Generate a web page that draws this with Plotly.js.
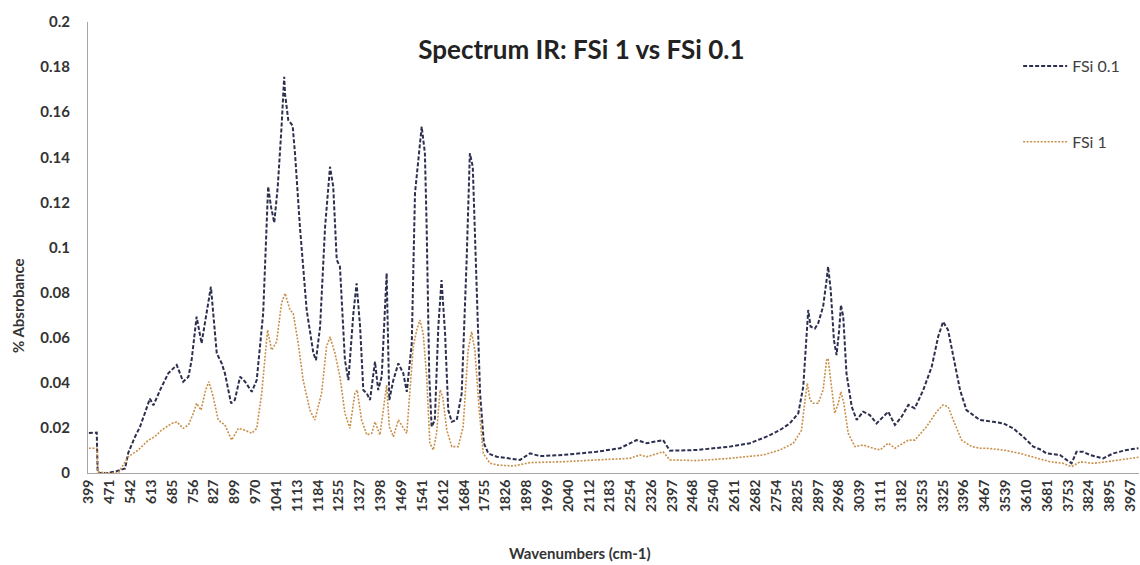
<!DOCTYPE html>
<html>
<head>
<meta charset="utf-8">
<script src="https://cdn.plot.ly/plotly-3.0.1.min.js"></script>
<style>html,body{margin:0;padding:0;background:#fff;}#chart{width:1140px;height:565px;}</style>
</head>
<body>
<div id="chart"></div>
<script>
// Wavenumbers (cm-1) and % absorbance
const wnFSi01 = [399, 426, 429, 432, 464, 488, 523, 534, 557, 574,
  591, 608, 620, 643, 671, 700, 722, 740, 751, 768,
  785, 803, 817, 837, 854, 865, 886, 899, 917, 934,
  957, 974, 996, 1013, 1023, 1034, 1046, 1059, 1068, 1071,
  1082, 1097, 1105, 1122, 1145, 1168, 1177, 1191, 1208, 1225,
  1236, 1248, 1259, 1276, 1288, 1305, 1316, 1328, 1339, 1351,
  1362, 1379, 1390, 1402, 1419, 1428, 1442, 1459, 1476, 1488,
  1505, 1516, 1527, 1539, 1550, 1556, 1565, 1573, 1584, 1596,
  1607, 1619, 1630, 1642, 1659, 1676, 1693, 1704, 1714, 1725,
  1739, 1752, 1767, 1796, 1830, 1876, 1910, 1944, 2024, 2138,
  2218, 2275, 2310, 2344, 2366, 2389, 2481, 2595, 2663, 2720,
  2766, 2800, 2829, 2846, 2857, 2863, 2871, 2886, 2897, 2914,
  2926, 2931, 2940, 2951, 2960, 2969, 2975, 2983, 2994, 3012,
  3029, 3051, 3074, 3097, 3120, 3137, 3160, 3183, 3206, 3228,
  3257, 3286, 3308, 3325, 3342, 3360, 3383, 3405, 3434, 3451,
  3497, 3531, 3565, 3599, 3634, 3662, 3679, 3702, 3725, 3748,
  3765, 3782, 3805, 3828, 3851, 3873, 3908, 3953, 3994];
const absFSi01 = [0.0177, 0.0179, 0.0005, 0.0, 0.0, 0.0006, 0.002, 0.009, 0.016, 0.0205,
  0.0266, 0.033, 0.030, 0.0368, 0.0442, 0.0479, 0.0405, 0.0427, 0.0501, 0.0693,
  0.0575, 0.0723, 0.0826, 0.0531, 0.0486, 0.0442, 0.0309, 0.0324, 0.0427, 0.0405,
  0.036, 0.0412, 0.0708, 0.127, 0.118, 0.111, 0.127, 0.1536, 0.1757, 0.168,
  0.1565, 0.154, 0.1418, 0.109, 0.0723, 0.0531, 0.0501, 0.0649, 0.109, 0.1358,
  0.127, 0.0945, 0.0915, 0.0501, 0.0412, 0.0708, 0.0841, 0.0649, 0.0368, 0.0353,
  0.0324, 0.0494, 0.0368, 0.0427, 0.0886, 0.0324, 0.0412, 0.0486, 0.0442, 0.036,
  0.0575, 0.124, 0.1373, 0.1536, 0.1418, 0.109, 0.0427, 0.0205, 0.0235, 0.0649,
  0.0856, 0.062, 0.0279, 0.0227, 0.0235, 0.0353, 0.0945, 0.1418, 0.1358, 0.0945,
  0.0353, 0.0132, 0.0087, 0.0072, 0.0065, 0.0058, 0.0087, 0.0075, 0.008, 0.0094,
  0.011, 0.0146, 0.0132, 0.0139, 0.0146, 0.0099, 0.0102, 0.0117, 0.0132, 0.0161,
  0.019, 0.022, 0.0265, 0.0383, 0.059, 0.0723, 0.0649, 0.0641, 0.0664, 0.0738,
  0.0856, 0.0915, 0.0812, 0.059, 0.0523, 0.0634, 0.0745, 0.0693, 0.0442, 0.0294,
  0.0235, 0.0272, 0.0257, 0.022, 0.025, 0.0272, 0.0213, 0.025, 0.0302, 0.0287,
  0.0368, 0.0471, 0.0604, 0.0671, 0.0634, 0.0516, 0.0368, 0.0279, 0.025, 0.0235,
  0.0227, 0.022, 0.0198, 0.0161, 0.0117, 0.0102, 0.0087, 0.0084, 0.008, 0.0058,
  0.0043, 0.0094, 0.0094, 0.008, 0.0072, 0.0065, 0.0087, 0.0102, 0.011];

const wnFSi1 = [399, 426, 430, 464, 500, 534, 568, 603, 625, 648,
  683, 700, 722, 740, 757, 768, 783, 799, 810, 825,
  842, 865, 888, 911, 934, 957, 974, 991, 1011, 1025,
  1042, 1059, 1071, 1088, 1099, 1116, 1133, 1156, 1173, 1196,
  1213, 1225, 1242, 1259, 1276, 1293, 1310, 1318, 1333, 1351,
  1368, 1379, 1396, 1413, 1419, 1428, 1442, 1459, 1476, 1488,
  1510, 1522, 1533, 1544, 1556, 1567, 1579, 1590, 1602, 1611,
  1625, 1642, 1664, 1681, 1698, 1710, 1721, 1736, 1750, 1773,
  1801, 1853, 1910, 2024, 2138, 2252, 2287, 2310, 2366, 2389,
  2481, 2595, 2709, 2766, 2812, 2840, 2852, 2860, 2869, 2880,
  2897, 2914, 2926, 2931, 2940, 2954, 2966, 2975, 2985, 3000,
  3023, 3051, 3086, 3109, 3137, 3160, 3206, 3228, 3268, 3303,
  3325, 3342, 3360, 3388, 3423, 3451, 3474, 3531, 3588, 3645,
  3691, 3736, 3765, 3794, 3839, 3885, 3931, 3994];
const absFSi1 = [0.011, 0.011, 0.0005, 0.0, 0.0, 0.0072, 0.0102, 0.0146, 0.0161, 0.019,
  0.022, 0.0227, 0.0198, 0.0213, 0.0265, 0.0309, 0.0279, 0.0368, 0.0405, 0.0338,
  0.0235, 0.0213, 0.0146, 0.0198, 0.019, 0.0176, 0.0198, 0.0353, 0.0634, 0.0545,
  0.0582, 0.0753, 0.0797, 0.0723, 0.0708, 0.0575, 0.0412, 0.0279, 0.0235, 0.0353,
  0.056, 0.0604, 0.0531, 0.0427, 0.0265, 0.0198, 0.0353, 0.0368, 0.0235, 0.0169,
  0.0176, 0.0227, 0.0169, 0.0324, 0.039, 0.0205, 0.0161, 0.0235, 0.0198, 0.0176,
  0.056, 0.0634, 0.0678, 0.062, 0.0427, 0.0132, 0.0102, 0.0176, 0.0368, 0.0338,
  0.019, 0.0117, 0.0117, 0.0205, 0.0545, 0.0627, 0.0545, 0.0279, 0.0087, 0.0043,
  0.0035, 0.0031, 0.0046, 0.005, 0.0058, 0.0065, 0.008, 0.0072, 0.0094, 0.0058,
  0.0055, 0.0065, 0.008, 0.0102, 0.0132, 0.019, 0.0324, 0.0398, 0.0324, 0.0309,
  0.0309, 0.0368, 0.0501, 0.0508, 0.0412, 0.0265, 0.0309, 0.036, 0.0309, 0.0176,
  0.0117, 0.0124, 0.011, 0.0102, 0.0132, 0.011, 0.0146, 0.0146, 0.0205, 0.0272,
  0.0302, 0.0294, 0.0235, 0.0146, 0.0117, 0.011, 0.011, 0.0102, 0.0087, 0.0065,
  0.005, 0.0043, 0.0028, 0.005, 0.0043, 0.005, 0.0058, 0.007];

const xTickVals = [399, 471, 542, 613, 685, 756, 827, 899, 970, 1041, 1113, 1184, 1255, 1327, 1398, 1469, 1541, 1612, 1684, 1755, 1826, 1898, 1969, 2040, 2112, 2183, 2254, 2326, 2397, 2468, 2540, 2611, 2682, 2754, 2825, 2897, 2968, 3039, 3111, 3182, 3253, 3325, 3396, 3467, 3539, 3610, 3681, 3753, 3824, 3895, 3967];
const yTickVals = [0, 0.02, 0.04, 0.06, 0.08, 0.1, 0.12, 0.14, 0.16, 0.18, 0.2];
const yTickText = ['0', '0.02', '0.04', '0.06', '0.08', '0.1', '0.12', '0.14', '0.16', '0.18', '0.2'];

const traces = [
  {x: wnFSi01, y: absFSi01, type: 'scatter', mode: 'lines', name: 'FSi 0.1', legendgroup: 'a',
   line: {color: '#2c2f4e', width: 2, dash: '4px,2px'}},
  {x: wnFSi1, y: absFSi1, type: 'scatter', mode: 'lines', name: 'FSi 1', legendgroup: 'b',
   line: {color: '#c8904a', width: 1.6, dash: '2px,1.5px'}}
];

const layout = {
  width: 1140, height: 565,
  margin: {l: 88, r: 1, t: 22, b: 92},
  paper_bgcolor: '#fff', plot_bgcolor: '#fff',
  font: {family: 'Lato, "Open Sans", sans-serif', color: '#404040'},
  title: {text: '<b>Spectrum IR: FSi 1 vs FSi 0.1</b>', xref: 'container', x: 0.51, xanchor: 'center',
          yref: 'container', y: 0.911, yanchor: 'middle', font: {size: 26, color: '#222'}},
  showlegend: true,
  legend: {x: 0.885, xanchor: 'left', y: 0.94, yanchor: 'top', tracegroupgap: 52, itemwidth: 44,
           font: {size: 16, color: '#404040'}, bgcolor: 'rgba(0,0,0,0)'},
  xaxis: {range: [396, 3996], tickmode: 'array', tickvals: xTickVals, ticktext: xTickVals.map(String),
          tickangle: -90, tickfont: {size: 14, color: '#333', weight: 'bold'}, showgrid: false, zeroline: false,
          showline: true, linecolor: '#a6a6a6', linewidth: 1, ticks: ''},
  yaxis: {range: [0, 0.2], tickmode: 'array', tickvals: yTickVals, ticktext: yTickText,
          tickfont: {size: 15, color: '#333', weight: 'bold'}, showgrid: false, zeroline: false,
          showline: true, linecolor: '#a6a6a6', linewidth: 1, ticks: '', ticklabelstandoff: 14},
  annotations: [
    {text: '<b>Wavenumbers (cm-1)</b>', xref: 'paper', x: (580 - 88) / 1051, xanchor: 'center',
     yref: 'paper', y: (473 - 553) / 451, yanchor: 'middle', showarrow: false, font: {size: 15, color: '#333'}},
    {text: '<b>% Absrobance</b>', xref: 'paper', x: (18 - 88) / 1051, xanchor: 'center',
     yref: 'paper', y: (473 - 306) / 451, yanchor: 'middle', textangle: -90, showarrow: false, font: {size: 15, color: '#333'}}
  ]
};

Plotly.newPlot('chart', traces, layout, {displayModeBar: false, staticPlot: true});
</script>
</body>
</html>
